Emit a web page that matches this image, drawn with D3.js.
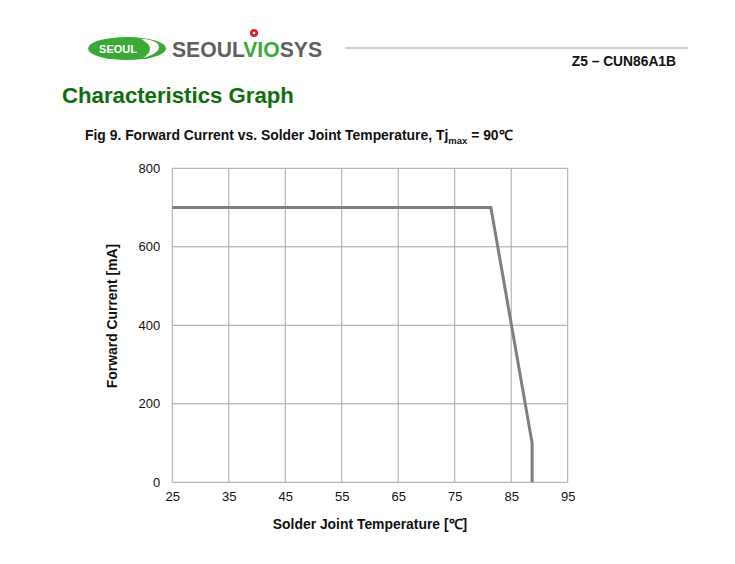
<!DOCTYPE html>
<html><head><meta charset="utf-8">
<script src="https://cdn.jsdelivr.net/npm/d3@7/dist/d3.min.js"></script>
<style>
html,body{margin:0;padding:0;background:#fff;}
text{font-family:"Liberation Sans",Arial,sans-serif;}
</style></head>
<body><svg id="c" width="735" height="564"></svg>
<script>
const temps = [25, 81.4, 88.7, 88.7];
const currents = [700, 700, 100, 0];
const xTicks = [25, 35, 45, 55, 65, 75, 85, 95];
const yTicks = [0, 200, 400, 600, 800];

const svg = d3.select("#c");
const m = {l:172.3, r:567.7, t:168.3, b:482.3};
const x = d3.scaleLinear().domain([25,95]).range([m.l,m.r]);
const y = d3.scaleLinear().domain([0,800]).range([m.b,m.t]);

// Header logo
const g = svg.append("g");
g.append("ellipse").attr("cx",127).attr("cy",48.5).attr("rx",39).attr("ry",11.5).attr("fill","#3aa935");
g.append("path").attr("d","M141,39 Q158,48 143,58 Q163,52 158,44 Q152,39 141,39 Z").attr("fill","#fff");
g.append("text").attr("x",118).attr("y",53).attr("text-anchor","middle").attr("font-size",11).attr("font-weight","bold").attr("fill","#fff").text("SEOUL");
const lt = g.append("text").attr("x",172).attr("y",57).attr("font-size",22).attr("font-weight","bold").attr("textLength",150).attr("lengthAdjust","spacingAndGlyphs");
lt.append("tspan").attr("fill","#5f6062").text("SEOUL");
lt.append("tspan").attr("fill","#3aa935").text("VIO");
lt.append("tspan").attr("fill","#5f6062").text("SYS");
g.append("circle").attr("cx",254).attr("cy",33).attr("r",4).attr("fill","#d6202a");
g.append("circle").attr("cx",254).attr("cy",33).attr("r",1.3).attr("fill","#fff");

svg.append("line").attr("x1",345).attr("x2",688).attr("y1",48).attr("y2",48).attr("stroke","#a0a0a0").attr("stroke-width",1.2);
svg.append("text").attr("x",676).attr("y",66).attr("text-anchor","end").attr("font-size",13.8).attr("font-weight","bold").attr("fill","#111").text("Z5 – CUN86A1B");

svg.append("text").attr("x",62).attr("y",103).attr("font-size",22.2).attr("font-weight","bold").attr("fill","#0d6e0d").text("Characteristics Graph");

const ft = svg.append("text").attr("x",85).attr("y",140).attr("font-size",13.9).attr("font-weight","bold").attr("fill","#111");
ft.append("tspan").text("Fig 9. Forward Current vs. Solder Joint Temperature, Tj");
ft.append("tspan").attr("font-size",9.5).attr("dy",4).text("max");
ft.append("tspan").attr("dy",-4).text(" = 90℃");

// grid
svg.append("g").selectAll("line").data(xTicks).join("line")
  .attr("x1",d=>x(d)).attr("x2",d=>x(d)).attr("y1",m.t).attr("y2",m.b)
  .attr("stroke","#a6a6a6").attr("stroke-width",1);
svg.append("g").selectAll("line").data(yTicks).join("line")
  .attr("x1",m.l).attr("x2",m.r).attr("y1",d=>y(d)).attr("y2",d=>y(d))
  .attr("stroke","#a6a6a6").attr("stroke-width",1);

const xa = svg.append("g").attr("transform",`translate(0,${m.b})`)
  .call(d3.axisBottom(x).tickValues(xTicks).tickSize(0).tickPadding(9).tickFormat(d3.format("d")));
xa.select(".domain").remove();
xa.selectAll("text").attr("font-size",13).attr("fill","#111").attr("font-family","Liberation Sans, Arial, sans-serif");
const ya = svg.append("g").attr("transform",`translate(${m.l},0)`)
  .call(d3.axisLeft(y).tickValues(yTicks).tickSize(0).tickPadding(12).tickFormat(d3.format("d")));
ya.select(".domain").remove();
ya.selectAll("text").attr("font-size",13).attr("fill","#111").attr("font-family","Liberation Sans, Arial, sans-serif");

svg.append("text").attr("x",370).attr("y",529).attr("text-anchor","middle").attr("font-size",13.9).attr("font-weight","bold").attr("fill","#111").text("Solder Joint Temperature [℃]");
svg.append("text").attr("transform","translate(117,316) rotate(-90)").attr("text-anchor","middle").attr("font-size",13.9).attr("font-weight","bold").attr("fill","#111").text("Forward Current [mA]");

svg.append("path").datum(temps.map((t,i)=>[t,currents[i]]))
  .attr("d",d3.line().x(d=>x(d[0])).y(d=>y(d[1])))
  .attr("fill","none").attr("stroke","#7f7f7f").attr("stroke-width",3).attr("stroke-linejoin","miter");
</script></body></html>
